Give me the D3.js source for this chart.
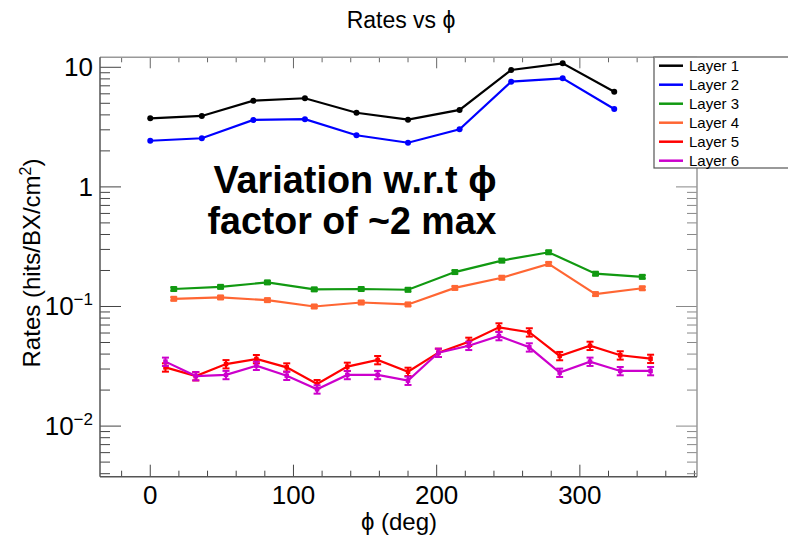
<!DOCTYPE html>
<html>
<head>
<meta charset="utf-8">
<script src="https://cdn.jsdelivr.net/npm/d3@7"></script>
<style>
  body { margin: 0; background: #fff; }
  text { font-family: "Liberation Sans", Arial, sans-serif; }
</style>
</head>
<body>
<div id="chart"></div>
<script>
// phi positions (deg) for each group of layers
const phiA = [0, 36, 72, 108, 144, 180, 216, 252, 288, 324];
const phiB = [16.4, 49.1, 81.8, 114.5, 147.3, 180, 212.7, 245.5, 278.2, 310.9, 343.6];
const phiC = [10.6, 31.8, 52.9, 74.1, 95.3, 116.5, 137.6, 158.8, 180, 201.2, 222.4, 243.5, 264.7, 285.9, 307.1, 328.2, 349.4];

// rates (hits/BX/cm2)
const layer1 = [3.74, 3.92, 5.26, 5.51, 4.17, 3.65, 4.40, 9.49, 10.8, 6.25];
const layer2 = [2.43, 2.55, 3.63, 3.68, 2.70, 2.34, 3.03, 7.58, 8.09, 4.48];
const layer3 = [0.140, 0.146, 0.159, 0.139, 0.140, 0.138, 0.194, 0.242, 0.284, 0.188, 0.177];
const layer4 = [0.116, 0.119, 0.113, 0.100, 0.108, 0.104, 0.143, 0.174, 0.227, 0.127, 0.142];
const layer5 = [0.0310, 0.0262, 0.0330, 0.0364, 0.0310, 0.0225, 0.0314, 0.0357, 0.0285, 0.0411, 0.0508, 0.0670, 0.0609, 0.0386, 0.0470, 0.0391, 0.0366];
const layer6 = [0.0346, 0.0262, 0.0268, 0.0320, 0.0264, 0.0203, 0.0268, 0.0268, 0.0240, 0.0411, 0.0470, 0.0567, 0.0456, 0.0280, 0.0346, 0.0289, 0.0289];

// relative uncertainty per layer
const relErr = [0.01, 0.01, 0.03, 0.03, 0.08, 0.08];

const layerNames = ["Layer 1", "Layer 2", "Layer 3", "Layer 4", "Layer 5", "Layer 6"];
const layerColors = ["#000000", "#0000ff", "#119911", "#ff6633", "#ff0000", "#cc00cc"];

const xTicks = [0, 100, 200, 300];
const yTicks = [10, 1, 0.1, 0.01];

const series = [
  { phi: phiA, val: layer1, marker: "circle" },
  { phi: phiA, val: layer2, marker: "circle" },
  { phi: phiB, val: layer3, marker: "square" },
  { phi: phiB, val: layer4, marker: "square" },
  { phi: phiC, val: layer5, marker: "square" },
  { phi: phiC, val: layer6, marker: "square" }
];

const W = 788, H = 536;
const fLeft = 100, fRight = 697, fTop = 57.3, fBottom = 476.7;
const PHI = "\u03d5";

const svg = d3.select("#chart").append("svg")
  .attr("width", W).attr("height", H);

const x = d3.scaleLinear().domain([-35.1, 381.8]).range([fLeft, fRight]);
const y = d3.scaleLog().domain([0.003775, 12.12]).range([fBottom, fTop]);

// minor ticks
let xMinor = d3.range(-20, 381, 20).filter(d => d % 100 !== 0);
let yMinor = [];
for (let e = -3; e <= 1; e++) {
  for (let m = 2; m <= 9; m++) {
    let v = m * Math.pow(10, e);
    if (v > y.domain()[0] && v < y.domain()[1]) yMinor.push(v);
  }
}

// frame ticks (inward on all four sides)
let ticks = svg.append("g").attr("stroke", "#444").attr("stroke-width", 1);
xMinor.forEach(d => {
  ticks.append("line").attr("x1", x(d)).attr("x2", x(d)).attr("y1", fBottom).attr("y2", fBottom - 6);
  ticks.append("line").attr("x1", x(d)).attr("x2", x(d)).attr("y1", fTop).attr("y2", fTop + 5).attr("stroke", "#666");
});
xTicks.forEach(d => {
  ticks.append("line").attr("x1", x(d)).attr("x2", x(d)).attr("y1", fBottom).attr("y2", fBottom - 12);
  ticks.append("line").attr("x1", x(d)).attr("x2", x(d)).attr("y1", fTop).attr("y2", fTop + 11).attr("stroke", "#666");
});
yMinor.forEach(d => {
  ticks.append("line").attr("x1", fLeft).attr("x2", fLeft + 10).attr("y1", y(d)).attr("y2", y(d));
  ticks.append("line").attr("x1", fRight).attr("x2", fRight - 10).attr("y1", y(d)).attr("y2", y(d)).attr("stroke", "#888");
});
yTicks.forEach(d => {
  ticks.append("line").attr("x1", fLeft).attr("x2", fLeft + 21).attr("y1", y(d)).attr("y2", y(d));
  ticks.append("line").attr("x1", fRight).attr("x2", fRight - 21).attr("y1", y(d)).attr("y2", y(d)).attr("stroke", "#888");
});

// frame
svg.append("line").attr("x1", fLeft).attr("x2", fRight).attr("y1", fTop).attr("y2", fTop)
  .attr("stroke", "#999").attr("stroke-width", 1.5);
svg.append("line").attr("x1", fRight).attr("x2", fRight).attr("y1", fTop).attr("y2", fBottom)
  .attr("stroke", "#999").attr("stroke-width", 1.5);
svg.append("line").attr("x1", fLeft).attr("x2", fRight).attr("y1", fBottom).attr("y2", fBottom)
  .attr("stroke", "#555").attr("stroke-width", 1.5);
svg.append("line").attr("x1", fLeft).attr("x2", fLeft).attr("y1", fTop).attr("y2", fBottom)
  .attr("stroke", "#555").attr("stroke-width", 1.5);

// x tick labels
svg.append("g").selectAll("text").data(xTicks).join("text")
  .attr("x", d => x(d)).attr("y", fBottom + 27)
  .attr("text-anchor", "middle").attr("font-size", 26).text(d => d);

// y tick labels
yTicks.forEach(d => {
  let e = Math.round(Math.log10(d));
  let t = svg.append("text").attr("x", 93).attr("y", y(d) + 9)
    .attr("text-anchor", "end").attr("font-size", 26);
  if (e === 1) t.text("10");
  else if (e === 0) t.text("1");
  else {
    t.append("tspan").text("10");
    t.append("tspan").attr("dy", -10).attr("font-size", 17).text("\u2212" + (-e));
  }
});

// axis titles
svg.append("text").attr("x", 401).attr("y", 28).attr("text-anchor", "middle")
  .attr("font-size", 23).text("Rates vs " + PHI);
svg.append("text").attr("x", 399).attr("y", 530).attr("text-anchor", "middle")
  .attr("font-size", 24).text(PHI + " (deg)");
let yl = svg.append("text").attr("transform", "translate(40,263) rotate(-90)")
  .attr("text-anchor", "middle").attr("font-size", 24);
yl.append("tspan").text("Rates (hits/BX/cm");
yl.append("tspan").attr("dy", -9).attr("font-size", 16).text("2");
yl.append("tspan").attr("dy", 9).text(")");

// data
const line = d3.line().x(d => x(d[0])).y(d => y(d[1]));
series.forEach((s, i) => {
  let pts = s.phi.map((p, j) => [p, s.val[j]]);
  let g = svg.append("g");
  let c = layerColors[i];
  g.append("path").datum(pts).attr("d", line)
    .attr("fill", "none").attr("stroke", c).attr("stroke-width", 2.2);
  pts.forEach(p => {
    let lo = y(p[1] * (1 - relErr[i])), hi = y(p[1] * (1 + relErr[i]));
    if (relErr[i] > 0.02) {
      g.append("line").attr("x1", x(p[0])).attr("x2", x(p[0])).attr("y1", lo).attr("y2", hi)
        .attr("stroke", c).attr("stroke-width", 2);
      [lo, hi].forEach(yy => g.append("line").attr("x1", x(p[0]) - 3.5).attr("x2", x(p[0]) + 3.5)
        .attr("y1", yy).attr("y2", yy).attr("stroke", c).attr("stroke-width", 2));
    }
    if (s.marker === "circle") {
      g.append("circle").attr("cx", x(p[0])).attr("cy", y(p[1])).attr("r", 3).attr("fill", c);
    } else {
      let sz = i < 4 ? 6 : 4.5;
      g.append("rect").attr("x", x(p[0]) - sz / 2).attr("y", y(p[1]) - sz / 2)
        .attr("width", sz).attr("height", sz).attr("fill", c);
    }
  });
});

// annotation
svg.append("text").attr("x", 355).attr("y", 193).attr("text-anchor", "middle")
  .attr("font-size", 38).attr("font-weight", "bold")
  .attr("textLength", 283).attr("lengthAdjust", "spacingAndGlyphs")
  .text("Variation w.r.t " + PHI);
svg.append("text").attr("x", 352).attr("y", 234).attr("text-anchor", "middle")
  .attr("font-size", 38).attr("font-weight", "bold")
  .attr("textLength", 289).attr("lengthAdjust", "spacingAndGlyphs")
  .text("factor of ~2 max");

// legend
let lg = svg.append("g");
lg.append("rect").attr("x", 654).attr("y", 57).attr("width", 140).attr("height", 111)
  .attr("fill", "#fff").attr("stroke", "#555").attr("stroke-width", 1.2);
lg.append("line").attr("x1", 654).attr("x2", 788).attr("y1", 57).attr("y2", 57)
  .attr("stroke", "#999").attr("stroke-width", 1.5);
layerNames.forEach((n, i) => {
  let yy = 65.7 + i * 19;
  lg.append("line").attr("x1", 659).attr("x2", 683).attr("y1", yy).attr("y2", yy)
    .attr("stroke", layerColors[i]).attr("stroke-width", 2.5);
  lg.append("text").attr("x", 689).attr("y", yy + 5.5).attr("font-size", 15).text(n);
});
</script>
</body>
</html>
